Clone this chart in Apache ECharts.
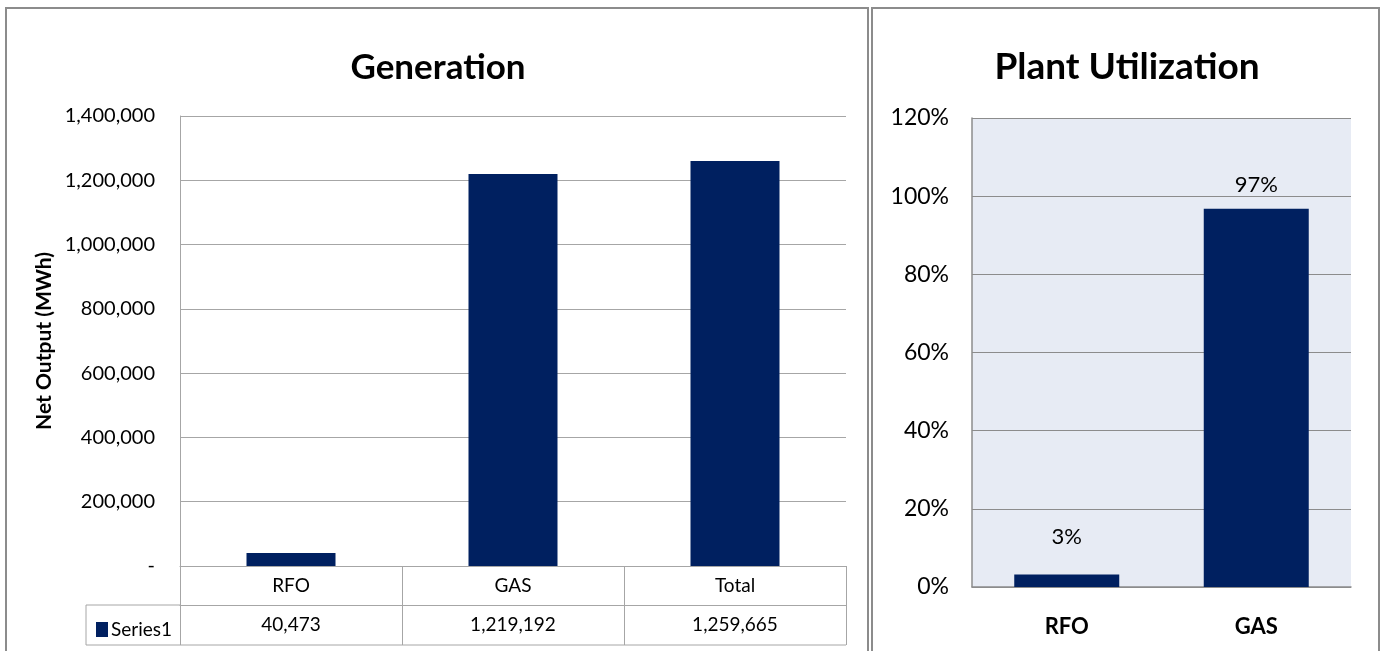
<!DOCTYPE html>
<html>
<head>
<meta charset="utf-8">
<script src="https://cdn.jsdelivr.net/npm/echarts@6/dist/echarts.min.js"></script>
<style>
  html, body { margin: 0; padding: 0; background: #fff; }
  #main { width: 1383px; height: 651px; }
</style>
</head>
<body>
<div id="main"></div>
<script>
// generation (MWh) by fuel
const genCategories = ['RFO', 'GAS', 'Total']
const genValues = [40473, 1219192, 1259665]
const genTicks = [0, 200000, 400000, 600000, 800000, 1000000, 1200000, 1400000]

// plant utilization (%)
const utilCategories = ['RFO', 'GAS']
const utilValues = [3.2, 96.8]
const utilTicks = [0, 20, 40, 60, 80, 100, 120]

const barColor = '#002060'
const gridColor = '#a6a6a6'
const font = 'Lato'

const chart = echarts.init(document.getElementById('main'))

const fmt = v => v === 0 ? '-' : v.toLocaleString('en-US')

const option = {
  animation: false,
  textStyle: { fontFamily: font, color: '#000' },
  title: [
    {
      text: 'Generation',
      left: 433,
      top: 45,
      textAlign: 'center',
      textStyle: { fontFamily: font, fontSize: 35, fontWeight: 'bold', color: '#000' },
    },
    {
      text: 'Plant Utilization',
      left: 1122,
      top: 44,
      textAlign: 'center',
      textStyle: { fontFamily: font, fontSize: 37, fontWeight: 'bold', color: '#000' },
    },
  ],
  legend: {
    left: 91,
    top: 615,
    itemWidth: 12,
    itemHeight: 15,
    itemGap: 4,
    icon: 'rect',
    data: ['Series1'],
    textStyle: { fontFamily: font, fontSize: 19, color: '#000', padding: [0, 0, 0, -2] },
  },
  grid: [
    { left: 180, top: 116, width: 666, height: 450 },
    {
      left: 972, top: 118, width: 379, height: 469,
      show: true, backgroundColor: '#e7ebf4', borderWidth: 0,
    },
  ],
  xAxis: [
    {
      type: 'category',
      gridIndex: 0,
      data: genCategories,
      axisLine: { lineStyle: { color: gridColor, width: 1 } },
      axisTick: { show: true, length: 79, lineStyle: { color: gridColor } },
      axisLabel: { fontSize: 19, margin: 10, color: '#000' },
    },
    {
      type: 'category',
      gridIndex: 0,
      position: 'bottom',
      offset: 39,
      data: genValues.map(fmt),
      axisLine: { show: true, lineStyle: { color: gridColor, width: 1 } },
      axisTick: { show: false },
      axisLabel: { fontSize: 19, margin: 10, color: '#000' },
    },
    {
      type: 'category',
      gridIndex: 1,
      data: utilCategories,
      axisLine: { lineStyle: { color: '#8c8c8c', width: 1.5 } },
      axisTick: { show: false },
      axisLabel: { fontSize: 22, fontWeight: 'bold', margin: 29, color: '#000' },
    },
  ],
  yAxis: [
    {
      type: 'value',
      gridIndex: 0,
      min: genTicks[0],
      max: genTicks[genTicks.length - 1],
      interval: genTicks[1] - genTicks[0],
      name: 'Net Output (MWh)',
      nameLocation: 'middle',
      nameRotate: 90,
      nameGap: 125,
      nameTextStyle: { fontFamily: font, fontSize: 21, fontWeight: 'bold', color: '#000' },
      axisLine: { show: true, lineStyle: { color: gridColor } },
      axisTick: { show: false },
      axisLabel: { fontSize: 20, margin: 25, color: '#000', formatter: fmt },
      splitLine: { lineStyle: { color: gridColor } },
    },
    {
      type: 'value',
      gridIndex: 1,
      min: utilTicks[0],
      max: utilTicks[utilTicks.length - 1],
      interval: utilTicks[1] - utilTicks[0],
      axisLine: { show: true, lineStyle: { color: '#8c8c8c', width: 1.5 } },
      axisTick: { show: false },
      axisLabel: { fontSize: 23, margin: 23, color: '#000', formatter: '{value}%' },
      splitLine: { lineStyle: { color: '#8c8c8c' } },
    },
  ],
  series: [
    {
      name: 'Series1',
      type: 'bar',
      xAxisIndex: 0,
      yAxisIndex: 0,
      barWidth: 89,
      itemStyle: { color: barColor },
      data: genValues,
    },
    {
      name: 'Utilization',
      type: 'bar',
      xAxisIndex: 2,
      yAxisIndex: 1,
      barWidth: 105,
      itemStyle: { color: barColor },
      label: {
        show: true,
        position: 'top',
        fontSize: 22,
        fontFamily: font,
        color: '#000',
        formatter: p => Math.round(p.value) + '%',
      },
      data: utilValues.map((v, i) => ({ value: v, label: { distance: i === 0 ? 27 : 13 } })),
    },
  ],
  graphic: [
    // panel frames
    { type: 'rect', shape: { x: 6, y: 8, width: 862, height: 700 }, style: { fill: 'none', stroke: '#8c8c8c', lineWidth: 2 }, silent: true },
    { type: 'rect', shape: { x: 872, y: 8, width: 507, height: 700 }, style: { fill: 'none', stroke: '#8c8c8c', lineWidth: 2 }, silent: true },
    // data table legend cell
    { type: 'line', shape: { x1: 86, y1: 605, x2: 180, y2: 605 }, style: { stroke: gridColor, lineWidth: 1 }, silent: true },
    { type: 'line', shape: { x1: 86, y1: 645, x2: 846, y2: 645 }, style: { stroke: gridColor, lineWidth: 1 }, silent: true },
    { type: 'line', shape: { x1: 86, y1: 605, x2: 86, y2: 645 }, style: { stroke: gridColor, lineWidth: 1 }, silent: true },
  ],
}

chart.setOption(option)
</script>
</body>
</html>
